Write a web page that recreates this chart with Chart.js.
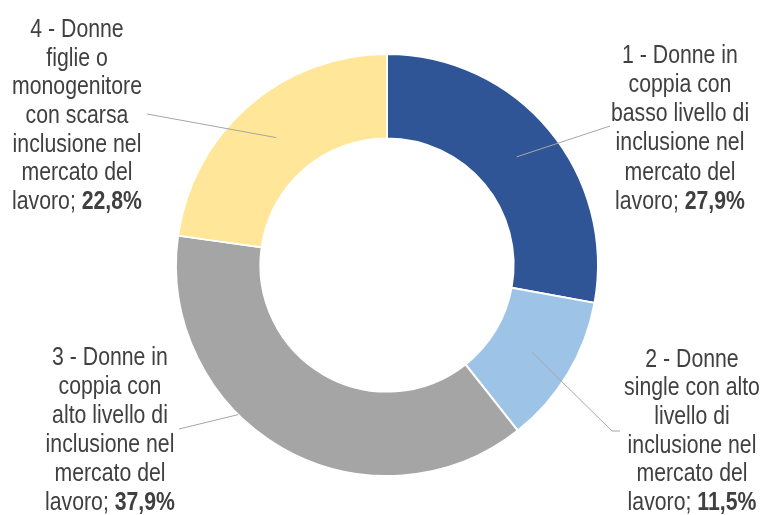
<!DOCTYPE html>
<html><head><meta charset="utf-8">
<script src="https://cdn.jsdelivr.net/npm/chart.js@4/dist/chart.umd.min.js"></script>
<style>html,body{margin:0;padding:0;background:#fff;}#wrap{width:760px;height:515px;position:relative;}</style>
</head><body><div id="wrap"><canvas id="c" width="760" height="515"></canvas></div>
<script>
const categories = [
  "1 - Donne in coppia con basso livello di inclusione nel mercato del lavoro",
  "2 - Donne single con alto livello di inclusione nel mercato del lavoro",
  "3 - Donne in coppia con alto livello di inclusione nel mercato del lavoro",
  "4 - Donne figlie o monogenitore con scarsa inclusione nel mercato del lavoro"
];
const values = [27.9, 11.5, 37.9, 22.8];
const valueLabels = ["27,9%", "11,5%", "37,9%", "22,8%"];
const labelLines = [
  ["1 - Donne in", "coppia con", "basso livello di", "inclusione nel", "mercato del", "lavoro; "],
  ["2 - Donne", "single con alto", "livello di", "inclusione nel", "mercato del", "lavoro; "],
  ["3 - Donne in", "coppia con", "alto livello di", "inclusione nel", "mercato del", "lavoro; "],
  ["4 - Donne", "figlie o", "monogenitore", "con scarsa", "inclusione nel", "mercato del", "lavoro; "]
];
const colors = ["#2F5597", "#9DC3E6", "#A5A5A5", "#FFE699"];

const FONT = "'Liberation Sans', Arial, sans-serif";
const SX = 0.85; // horizontal condensation to mimic a narrow face
const TEXT = "#404040";
const LINE = "#A6A6A6";

const layout = [
  {cx: 680, y0: 56, step: 29.2, lead: [[610,126]], anchor: 'mid'},
  {cx: 692, y0: 360, step: 28.6, lead: [[620,431],[612,431]], anchor: 'mid'},
  {cx: 110, y0: 358, step: 29, lead: [[179,429]], anchor: 'outer'},
  {cx: 77, y0: 30, step: 28.7, lead: [[147,114]], anchor: 'mid'}
];

function drawText(ctx, t, x, y, font) {
  ctx.save();
  ctx.font = font;
  ctx.translate(x, y);
  ctx.scale(SX, 1);
  ctx.textAlign = 'left';
  ctx.textBaseline = 'middle';
  ctx.fillText(t, 0, 0);
  ctx.restore();
}
function textW(ctx, t, font) {
  ctx.save(); ctx.font = font; const w = ctx.measureText(t).width * SX; ctx.restore(); return w;
}

const labelPlugin = {
  id: 'labels',
  afterDraw(chart) {
    const ctx = chart.ctx;
    const meta = chart.getDatasetMeta(0);
    const fN = "25px " + FONT, fB = "bold 25px " + FONT;
    ctx.save();
    meta.data.forEach((arc, i) => {
      const L = layout[i];
      let ax, ay;
      if (L.anchor === 'mid') {
        const p = arc.tooltipPosition();
        ax = p.x; ay = p.y;
      } else {
        const a = arc.startAngle + (arc.endAngle - arc.startAngle) * 0.61;
        ax = arc.x + Math.cos(a) * arc.outerRadius;
        ay = arc.y + Math.sin(a) * arc.outerRadius;
      }
      ctx.strokeStyle = LINE;
      ctx.lineWidth = 1;
      ctx.beginPath();
      ctx.moveTo(L.lead[0][0], L.lead[0][1]);
      for (let k = 1; k < L.lead.length; k++) ctx.lineTo(L.lead[k][0], L.lead[k][1]);
      ctx.lineTo(ax, ay);
      ctx.stroke();
      ctx.fillStyle = TEXT;
      const lines = labelLines[i];
      lines.forEach((t, j) => {
        const y = L.y0 + j * L.step;
        if (j < lines.length - 1) {
          const w = textW(ctx, t, fN);
          drawText(ctx, t, L.cx - w / 2, y, fN);
        } else {
          const w1 = textW(ctx, t, fN);
          const w2 = textW(ctx, valueLabels[i], fB);
          const x0 = L.cx - (w1 + w2) / 2;
          drawText(ctx, t, x0, y, fN);
          drawText(ctx, valueLabels[i], x0 + w1, y, fB);
        }
      });
    });
    ctx.restore();
  }
};

new Chart(document.getElementById('c'), {
  type: 'doughnut',
  data: {
    labels: categories,
    datasets: [{
      data: values,
      backgroundColor: colors,
      borderColor: '#ffffff',
      borderWidth: 2,
      hoverOffset: 0
    }]
  },
  options: {
    responsive: false,
    animation: false,
    cutout: '60%',
    layout: {padding: {top: 53, bottom: 38, left: 175, right: 161}},
    plugins: {legend: {display: false}, tooltip: {enabled: false}}
  },
  plugins: [labelPlugin]
});
</script>
</body></html>
